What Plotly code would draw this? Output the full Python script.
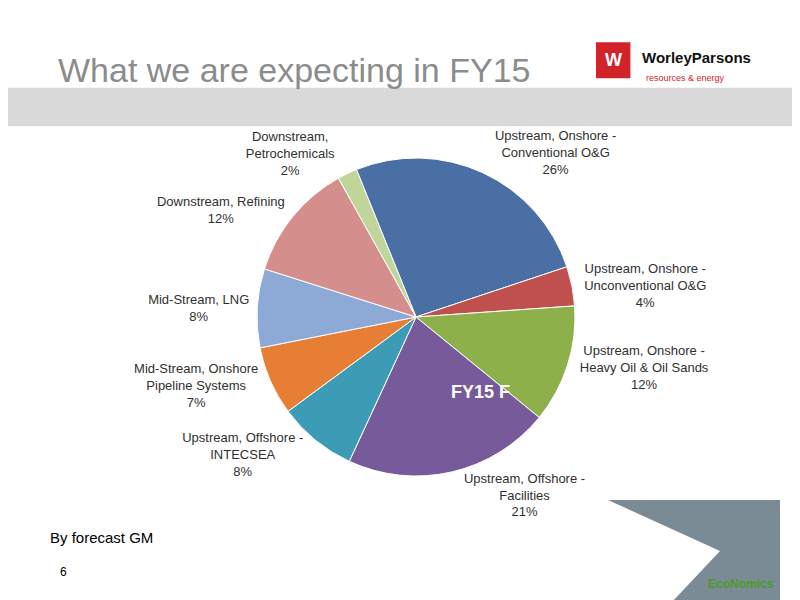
import plotly.graph_objects as go

# Segment data (clockwise from the top)
labels = [
    "Upstream, Onshore -<br>Conventional O&G",
    "Upstream, Onshore -<br>Unconventional O&G",
    "Upstream, Onshore -<br>Heavy Oil & Oil Sands",
    "Upstream, Offshore -<br>Facilities",
    "Upstream, Offshore -<br>INTECSEA",
    "Mid-Stream, Onshore<br>Pipeline Systems",
    "Mid-Stream, LNG",
    "Downstream, Refining",
    "Downstream,<br>Petrochemicals",
]
shares = [26, 4, 12, 21, 8, 7, 8, 12, 2]
colors = ["#4A6FA5", "#C0504D", "#8DB04A", "#765A99", "#3C9BB5",
          "#E67E35", "#8DA9D6", "#D48F8D", "#BFD59A"]

fig = go.Figure()
fig.add_trace(go.Pie(
    labels=labels, values=shares, sort=False, direction="clockwise",
    rotation=-22, marker=dict(colors=colors, line=dict(color="white", width=1)),
    textinfo="label+percent", textposition="outside",
    texttemplate="%{label}<br>%{value}%",
    textfont=dict(family="Liberation Sans", size=13, color="#303030"),
    domain=dict(x=[0.28, 0.74], y=[0.22, 0.75]),
    showlegend=False, hoverinfo="label+percent",
))

def note(x, y, text, size, color, xanchor="left"):
    fig.add_annotation(x=x, y=y, xref="paper", yref="paper", text=text, showarrow=False,
                       xanchor=xanchor, yanchor="middle",
                       font=dict(family="Liberation Sans", size=size, color=color))

# Slide header
fig.add_shape(type="rect", xref="paper", yref="paper", x0=0, x1=1, y0=0.803, y1=0.867,
              fillcolor="#D9D9D9", line_width=0, layer="below")
note(0.06, 0.897, "What we are expecting in FY15", 34, "#8C8C8C")
fig.add_shape(type="rect", xref="paper", yref="paper", x0=0.735, x1=0.778, y0=0.883, y1=0.943,
              fillcolor="#D2232A", line_width=0)
note(0.7565, 0.913, "<b>W</b>", 18, "white", "center")
note(0.79, 0.917, "<b>WorleyParsons</b>", 15, "#111")
note(0.795, 0.883, "resources & energy", 9, "#D2232A")

note(0.59, 0.36, "<b>FY15 F</b>", 18, "white", "center")

# Footer
note(0.05, 0.118, "By forecast GM", 15, "black")
note(0.062, 0.06, "6", 12, "black")
fig.add_shape(type="path", xref="paper", yref="paper",
              path="M 0.75 0.18 L 0.965 0.18 L 0.965 0.01 L 0.83 0.01 L 0.89 0.095 Z",
              fillcolor="#5A6E7A", line_width=0, opacity=0.8)
note(0.96, 0.04, "<b>EcoNomics</b>", 12, "#4C9A2A", "right")

fig.update_layout(width=800, height=600, margin=dict(l=0, r=0, t=0, b=0),
                  paper_bgcolor="white", plot_bgcolor="white")
fig.write_html("out.html")
